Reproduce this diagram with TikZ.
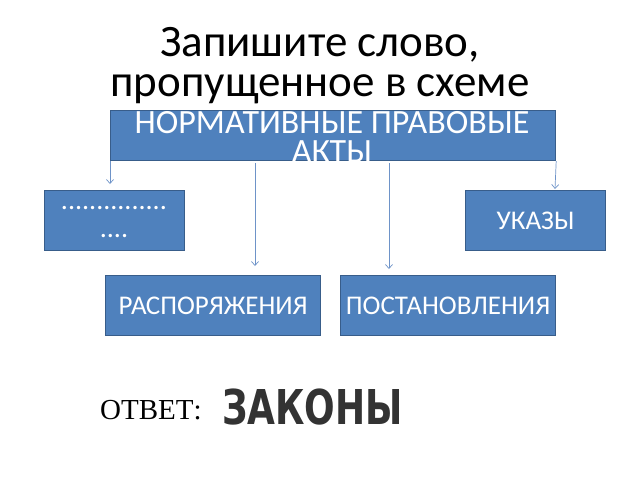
\documentclass[tikz,border=0pt]{standalone}
\usepackage{fontspec}
\setmainfont{Carlito}
\newfontfamily\serifru{Liberation Serif}
\newfontfamily\heavy{DejaVu Sans}
\usetikzlibrary{arrows.meta}
\definecolor{boxfill}{HTML}{4F81BD}
\definecolor{boxline}{HTML}{385D8A}
\definecolor{arrcol}{HTML}{6E93C8}
\tikzset{
  box/.style={draw=boxline, line width=1.2pt, fill=boxfill, text=white, inner sep=0pt, anchor=north west},
  boxtext/.style={text=white, font=\fontsize{27}{30}\selectfont, inner sep=0pt},
  titletext/.style={font=\fontsize{45}{40}\selectfont, inner sep=0pt, text height=24pt, text depth=8pt},
  toptextstyle/.style={text=white, font=\fontsize{34}{30}\selectfont, inner sep=0pt, text height=19pt, text depth=5pt},
  arr/.style={draw=arrcol, line width=0.7pt, -{Straight Barb[length=4pt,width=7pt]}}
}
\begin{document}
\begin{tikzpicture}[x=1pt,y=-1pt]
\useasboundingbox (0,0) rectangle (640,480);
\node[titletext, anchor=base] (title1) at (320,56) {Запишите слово,};
\node[titletext, anchor=base] (title2) at (320,96) {пропущенное в схеме};
\node[box, minimum width=445, minimum height=50] (top) at (110,110) {};
\node[toptextstyle, anchor=base] (toptext1) at (332,133) {НОРМАТИВНЫЕ ПРАВОВЫЕ};
\node[toptextstyle, anchor=base] (toptext2) at (332,162) {АКТЫ};
\node[box, minimum width=140, minimum height=60] (left) at (44,190) {};
\node[boxtext, align=center, font=\fontsize{28}{28}\selectfont] (lefttext) at (114,222) {...............\\....};
\node[box, minimum width=140, minimum height=60] (right) at (465,190) {};
\node[boxtext] (righttext) at (right.center) {УКАЗЫ};
\node[box, minimum width=215, minimum height=60] (rasp) at (105,275) {};
\node[boxtext] (rasptext) at (rasp.center) {РАСПОРЯЖЕНИЯ};
\node[box, minimum width=215, minimum height=60] (post) at (340,275) {};
\node[boxtext] (posttext) at (post.center) {ПОСТАНОВЛЕНИЯ};
\coordinate (a1s) at (top.south west);
\coordinate (a1e) at (110,184);
\coordinate (a2s) at (top.south east);
\coordinate (a2e) at (555,189);
\coordinate (a3s) at (255,163);
\coordinate (a3e) at (255,266);
\coordinate (a4s) at (389,163);
\coordinate (a4e) at (389,269);
\draw[arr] (a1s) -- (a1e);
\draw[arr] (a2s) -- (a2e);
\draw[arr] (a3s) -- (a3e);
\draw[arr] (a4s) -- (a4e);
\node[font=\serifru\fontsize{29}{30}\selectfont, anchor=west, inner sep=0pt] (otvet) at (100,410) {ОТВЕТ:};
\node[font=\heavy\bfseries\fontsize{48}{50}\selectfont, text=black!80, anchor=west, xscale=0.75, inner sep=0pt] (zakony) at (222,407) {ЗАКОНЫ};
\end{tikzpicture}
\end{document}
